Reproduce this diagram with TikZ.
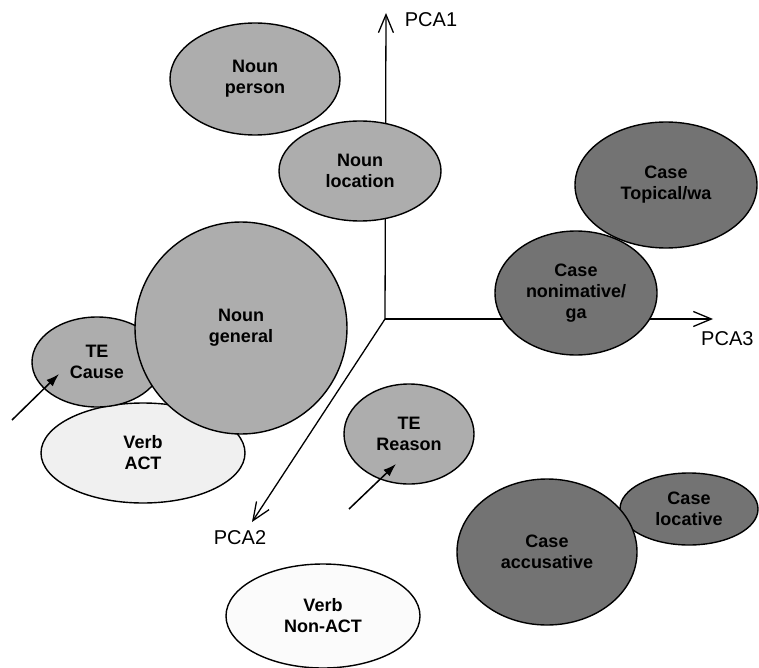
\documentclass[tikz,border=0pt]{standalone}
\usepackage{fontspec}
\setmainfont{Liberation Sans}
\usetikzlibrary{shapes.geometric,arrows.meta}

\definecolor{nounfill}{gray}{0.68}
\definecolor{casefill}{gray}{0.45}
\definecolor{verbfill}{gray}{0.94}
\definecolor{nonactfill}{gray}{0.985}

\tikzset{
    blob/.style={ellipse, draw=black, line width=1.4pt, inner sep=0pt, align=center,
        font=\fontsize{18}{21}\selectfont\bfseries},
    nounblob/.style={blob, fill=nounfill},
    caseblob/.style={blob, fill=casefill},
    verbblob/.style={blob, fill=verbfill},
    axisline/.style={line width=1.3pt, -{Straight Barb[length=18pt,width=15pt]}},
    pointer/.style={line width=1.5pt, -{Latex[length=13pt,width=9pt]}},
    axislabel/.style={font=\fontsize{20}{22}\selectfont}
}

\begin{document}
\begin{tikzpicture}[x=1pt,y=-1pt]
    \useasboundingbox (0,0) rectangle (759,668);

    % axes
    \coordinate (origin) at (385,319);
    \coordinate (pcaOneEnd) at (386,13);
    \coordinate (pcaThreeEnd) at (713,319);
    \coordinate (pcaTwoEnd) at (252,522);
    \node[axislabel] (pcaOne) at (431,20) {PCA1};
    \node[axislabel, anchor=east] (pcaThree) at (757,339) {PCA3};
    \node[axislabel] (pcaTwo) at (240,538) {PCA2};
    \draw[axisline] (origin) -- (pcaOneEnd);
    \draw[axisline] (origin) -- (pcaThreeEnd);
    \draw[axisline] (origin) -- (pcaTwoEnd);

    % left group
    \node[verbblob, minimum width=204pt, minimum height=100pt] (verbAct) at (143,453) {Verb\\ACT};
    \node[nounblob, minimum width=130pt, minimum height=90pt] (teCause) at (97,362) {TE\\Cause};
    \node[nounblob, circle, minimum size=212pt] (nounGeneral) at (241,328) {Noun\\general};

    % upper group
    \node[nounblob, minimum width=170pt, minimum height=112pt] (nounPerson) at (255,79) {Noun\\person};
    \node[nounblob, minimum width=162pt, minimum height=100pt] (nounLocation) at (360,171) {Noun\\location};

    % case group
    \node[caseblob, minimum width=162pt, minimum height=124pt] (caseNom) at (576,293) {Case\\nonimative/\\ga};
    \node[caseblob, minimum width=182pt, minimum height=126pt] (caseTopical) at (666,185) {Case\\Topical/wa};
    \node[caseblob, minimum width=138pt, minimum height=72pt] (caseLocative) at (689,509) {Case\\locative};
    \node[caseblob, minimum width=180pt, minimum height=146pt] (caseAccusative) at (547,552) {Case\\accusative};

    % lower group
    \node[nounblob, minimum width=130pt, minimum height=100pt] (teReason) at (409,434) {TE\\Reason};
    \node[blob, fill=nonactfill, minimum width=194pt, minimum height=104pt] (verbNonAct) at (323,616) {Verb\\Non-ACT};

    % pointers
    \coordinate (causeTail) at (12,420);
    \coordinate (causeTip) at (59,374);
    \coordinate (reasonTail) at (349,509);
    \coordinate (reasonTip) at (396,464);
    \draw[pointer] (causeTail) -- (causeTip);
    \draw[pointer] (reasonTail) -- (reasonTip);
\end{tikzpicture}
\end{document}
